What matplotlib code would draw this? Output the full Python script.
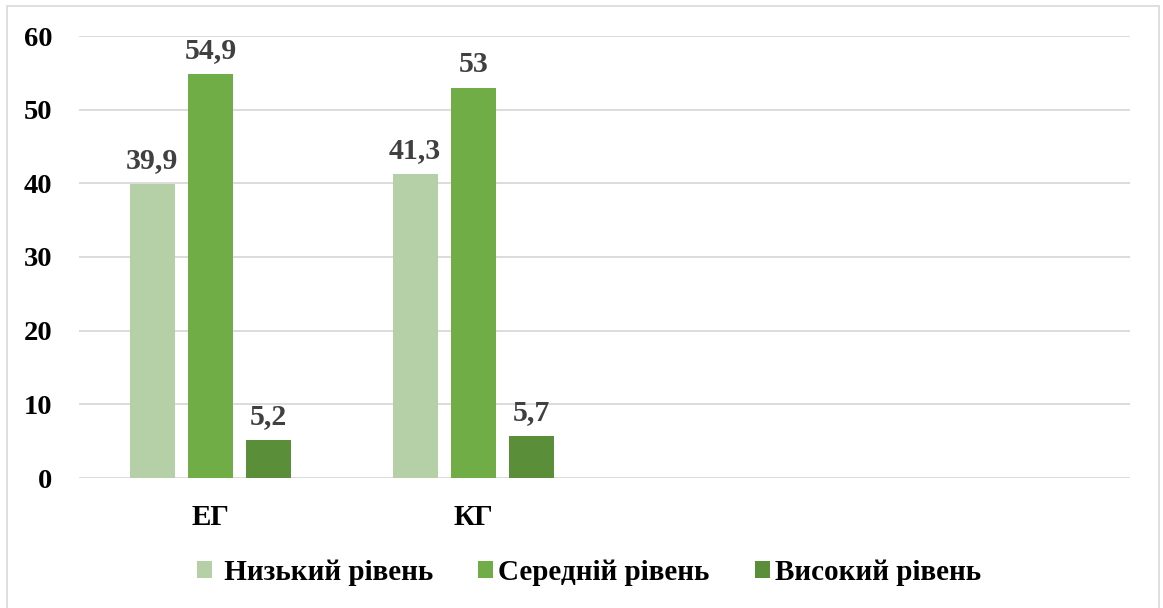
import matplotlib
matplotlib.use("Agg")
import matplotlib.pyplot as plt
from matplotlib.patches import Rectangle
import numpy as np

# Data
groups = ["ЕГ", "КГ", "", ""]
series_names = ["Низький рівень", "Середній рівень", "Високий рівень"]
low_level = [39.9, 41.3]
mid_level = [54.9, 53.0]
high_level = [5.2, 5.7]
y_ticks = [0, 10, 20, 30, 40, 50, 60]

colors = ["#B5D0A7", "#70AD47", "#5A8E39"]
grid_color = "#D9D9D9"
label_color = "#404040"

plt.rcParams["font.family"] = ["Liberation Serif", "DejaVu Serif"]
plt.rcParams["font.weight"] = "bold"

W, H = 1163, 608
fig = plt.figure(figsize=(W / 100, H / 100), dpi=100)
fig.patch.set_facecolor("white")

# outer chart frame
fig.patches.append(Rectangle((7 / W, -0.05), (1159 - 7) / W, 1.05 - 6 / H,
                             transform=fig.transFigure, fill=False,
                             edgecolor=grid_color, linewidth=1.2))

left, right = 79 / W, 1130 / W
bottom, top = 1 - 478 / H, 1 - 36 / H
ax = fig.add_axes([left, bottom, right - left, top - bottom])

x = np.arange(len(groups))
offsets = [-0.2207, 0.0, 0.2207]
bar_w = 0.171
series = [low_level, mid_level, high_level]
legend_labels = [" " + series_names[0]] + series_names[1:]

for vals, off, col, name in zip(series, offsets, colors, legend_labels):
    xs = x[:len(vals)] + off
    bars = ax.bar(xs, vals, width=bar_w, color=col, label=name, zorder=3)
    for b, v in zip(bars, vals):
        txt = f"{v:g}".replace(".", ",")
        ax.annotate(txt, (b.get_x() + b.get_width() / 2, v),
                    xytext=(0, 7), textcoords="offset points",
                    ha="center", va="bottom", fontsize=21.5,
                    fontweight="bold", color=label_color)

ax.set_xlim(-0.5, len(groups) - 0.5)
ax.set_ylim(0, 60)
ax.set_yticks(y_ticks)
ax.set_xticks(x)
ax.set_xticklabels(groups)
ax.yaxis.grid(True, color=grid_color, linewidth=1.3, zorder=0)
ax.set_axisbelow(True)
for s in ax.spines.values():
    s.set_visible(False)
ax.tick_params(axis="both", length=0)
ax.tick_params(axis="y", pad=19, labelsize=20.5, labelcolor="black")
ax.tick_params(axis="x", pad=19, labelsize=21, labelcolor="black")
for t in ax.get_xticklabels() + ax.get_yticklabels():
    t.set_fontweight("bold")

handles, labels = ax.get_legend_handles_labels()
leg = fig.legend(handles, labels, loc="center", bbox_to_anchor=(589 / W, 1 - 572 / H),
                 ncol=3, frameon=False, fontsize=21,
                 handlelength=0.51, handleheight=0.51, handletextpad=0.17,
                 columnspacing=1.55)
for t in leg.get_texts():
    t.set_fontweight("bold")

fig.savefig("out.png", dpi=100, facecolor="white")
